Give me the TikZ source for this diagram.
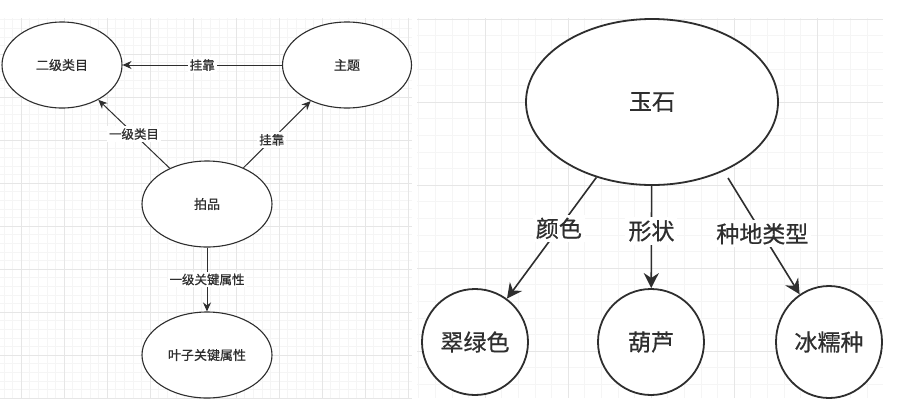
\documentclass[tikz,border=0pt]{standalone}
\usepackage{fontspec}
\setmainfont{Noto Sans CJK SC}[FakeBold=0.6]
\usetikzlibrary{arrows.meta, shapes.geometric}
\definecolor{ink}{HTML}{2E2E2E}
\definecolor{gridmajor}{HTML}{E6E6E6}
\definecolor{gridminor}{HTML}{F5F5F5}

\tikzset{
  smallnode/.style={ellipse, draw=ink, line width=1.1pt, inner sep=0pt, text=ink,
    minimum width=124pt, minimum height=86pt, font=\fontsize{13}{13}\selectfont},
  smalllabel/.style={fill=white, inner sep=2pt, text=ink, font=\fontsize{12.5}{12.5}\selectfont},
  smallarrow/.style={draw=ink, line width=1pt, -{Stealth[length=9pt, width=8pt]}},
  bignode/.style={ellipse, draw=ink, line width=1.8pt, inner sep=0pt, text=ink,
    minimum width=106pt, minimum height=106pt, font=\fontsize{23}{23}\selectfont},
  biglabel/.style={fill=white, inner sep=3pt, text=ink, font=\fontsize{23}{23}\selectfont},
  bigarrow/.style={draw=ink, line width=1.6pt, -{Stealth[length=15pt, width=15pt]}},
  minorline/.style={gridminor, line width=0.6pt},
  majorline/.style={gridmajor, line width=0.8pt}
}

\begin{document}
\begin{tikzpicture}[x=1pt, y=-1pt]
  \useasboundingbox (0,0) rectangle (899,413);
  \fill[white] (0,0) rectangle (899,413);
  % Left grid
  \foreach \gx in {3.8,12.4,...,412} \draw[minorline] (\gx,18) -- (\gx,398);
  \foreach \gy in {19.6,28.2,...,398} \draw[minorline] (0,\gy) -- (412,\gy);
  \foreach \gx in {21,64,...,412} \draw[majorline] (\gx,18) -- (\gx,398);
  \foreach \gy in {54,97,...,398} \draw[majorline] (0,\gy) -- (412,\gy);
  % Right grid
  \foreach \gx in {418.6,435.2,...,883} \draw[minorline] (\gx,18) -- (\gx,398);
  \foreach \gy in {19,35.6,...,398} \draw[minorline] (417,\gy) -- (883,\gy);
  \foreach \gx in {485,568,...,883} \draw[majorline] (\gx,18) -- (\gx,398);
  \foreach \gy in {19,102,...,398} \draw[majorline] (417,\gy) -- (883,\gy);

  % Left diagram
  \node[smallnode, fill=white, minimum width=120pt] (subcat) at (62,65) {二级类目};
  \node[smallnode, fill=white, minimum width=129pt] (theme) at (347,65) {主题};
  \node[smallnode, fill=white, minimum width=130pt] (lot) at (207,204) {拍品};
  \node[smallnode, fill=white, minimum width=130pt] (leafattr) at (207,355) {叶子关键属性};
  \draw[smallarrow] (theme) -- node[smalllabel] {挂靠} (subcat);
  \draw[smallarrow] (lot) -- node[smalllabel] {一级类目} (subcat);
  \draw[smallarrow] (lot) -- node[smalllabel, pos=0.42] {挂靠} (theme);
  \draw[smallarrow] (lot) -- node[smalllabel] {一级关键属性} (leafattr);

  % Right diagram
  \node[bignode, fill=white, minimum width=252pt, minimum height=166pt] (jade) at (652,102) {玉石};
  \node[bignode, fill=white] (emerald) at (475,342) {翠绿色};
  \node[bignode, fill=white] (gourd) at (651,342) {葫芦};
  \node[bignode, fill=white, minimum height=112pt] (icy) at (829,342) {冰糯种};
  \coordinate (typestart) at (728,178);
  \draw[bigarrow] (jade) -- node[biglabel, pos=0.42] {颜色} (emerald);
  \draw[bigarrow] (jade) -- node[biglabel, pos=0.44] {形状} (gourd);
  \draw[bigarrow] (typestart) -- node[biglabel, pos=0.48] {种地类型} (icy);
\end{tikzpicture}
\end{document}
